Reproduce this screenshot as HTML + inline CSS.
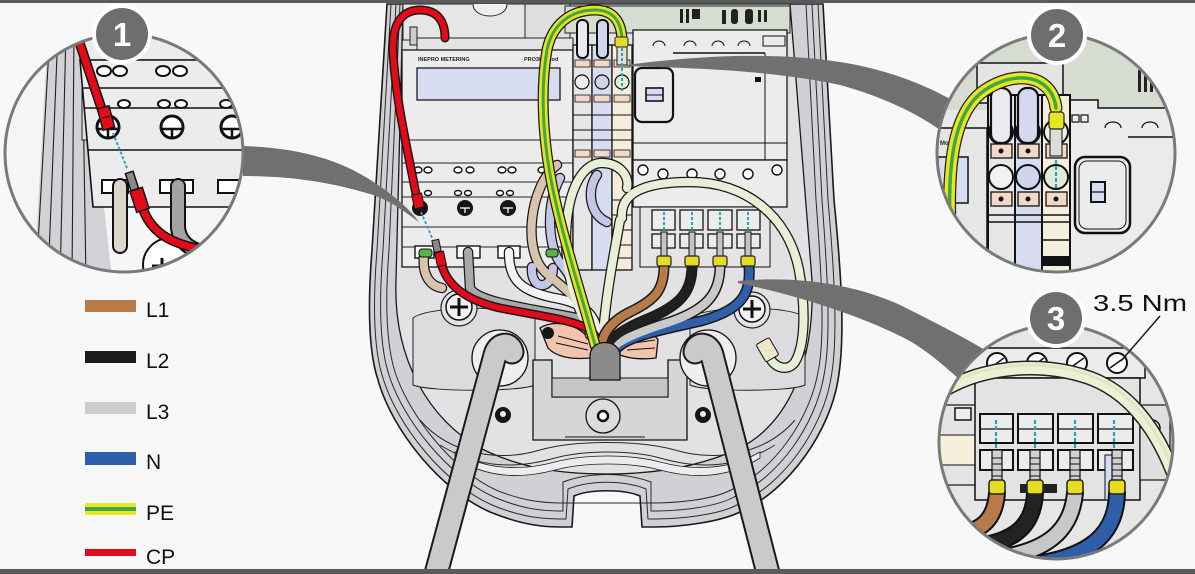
<!DOCTYPE html>
<html><head><meta charset="utf-8">
<style>
html,body{margin:0;padding:0;background:#f8f8f8;overflow:hidden;}
svg{display:block;}
text{font-family:"Liberation Sans",sans-serif;}
</style></head>
<body>
<svg width="1195" height="574" viewBox="0 0 1195 574" xmlns="http://www.w3.org/2000/svg">
<defs>
<clipPath id="c1"><circle cx="124" cy="153" r="119"/></clipPath>
<clipPath id="c2"><circle cx="1056" cy="153" r="119"/></clipPath>
<clipPath id="c3"><circle cx="1056" cy="442" r="117"/></clipPath>
</defs>
<rect width="1195" height="574" fill="#f8f8f8"/>

<!-- ============ HOUSING ============ -->
<path d="M387,4 L372,250 C368,300 368,350 378,380 C392,430 440,490 490,512 C515,522 535,527 560,527 L572,527 L574,496 C590,489 624,489 640,496 L642,527 L655,527 C680,527 720,522 740,512 C790,490 830,430 838,380 C845,340 842,280 834,200 L823,4 Z" fill="#d1d1d5" stroke="#1a1a1a" stroke-width="1.6"/>
<g fill="none" stroke="#2a2a2a" stroke-width="1">
<path d="M391,4 L377,250 C373,300 373,348 383,378 C397,425 444,484 492,505 C516,515 536,519 560,519 L566,519 L568,489 C590,480 624,480 646,489 L648,519 L655,519 C680,519 718,515 737,505 C785,484 823,427 831,378 C838,340 835,280 828,200 L818,4"/>
<path d="M396,4 L383,250 C379,300 379,345 389,375 C403,420 449,477 494,497 C517,507 537,511 560,511 L563,511 L563,482 C590,472 624,472 651,482 L651,511 L655,511 C680,511 716,507 734,497 C780,477 816,423 824,375 C831,340 828,280 822,200 L812,4"/>
<path d="M400,4 L389,250 C385,300 386,343 395,372 C409,415 452,470 496,490 C520,500 540,503 563,503 L651,503 C676,503 712,500 731,490 C775,470 810,418 818,372 C825,340 822,280 816,200 L806,4"/>
</g>
<!-- inner cavity -->
<path d="M403,4 L396,280 C393,360 430,420 480,448 C520,468 560,474 607,474 C655,474 700,467 740,448 C790,422 815,360 812,280 L790,4 Z" fill="#e2e2e4" stroke="#1a1a1a" stroke-width="1.3"/>
<!-- bottom rim bands -->
<g fill="none" stroke="#2a2a2a" stroke-width="1">
<path d="M420,420 C450,455 500,462 540,450 C575,440 640,440 675,450 C715,462 765,455 795,420"/>
<path d="M440,445 C480,470 520,468 555,458 C585,450 630,450 660,458 C695,468 735,470 775,445"/>
</g>
<path d="M455,452 C490,472 525,470 555,462 C585,454 630,454 660,462 C690,470 725,472 760,452 L760,458 C725,480 690,478 660,470 C630,462 585,462 555,470 C525,478 490,480 455,458 Z" fill="#ececee" stroke="#222" stroke-width="0.8"/>

<!-- top areas -->
<rect x="403" y="4" width="122" height="36" fill="#e6e6e6" stroke="#222" stroke-width="1"/>
<path d="M473,4 C473,20 507,20 507,4" fill="#eee" stroke="#222" stroke-width="1"/>
<rect x="525" y="4" width="45" height="40" fill="#dedede" stroke="#222" stroke-width="1"/>
<rect x="565" y="6" width="225" height="27" fill="#d5dcd0" stroke="#222" stroke-width="1"/>
<g fill="#222">
<rect x="680" y="9" width="3" height="14"/><rect x="686" y="9" width="3" height="14"/><rect x="692" y="9" width="8" height="10"/>
<rect x="722" y="10" width="4" height="14"/><rect x="731" y="9" width="7" height="15" rx="3"/><rect x="745" y="9" width="8" height="15" rx="3"/><rect x="758" y="10" width="3" height="12"/><rect x="764" y="10" width="3" height="12"/>
</g>
<!-- left wall bracket -->
<rect x="410" y="27" width="7" height="18" fill="#ccc" stroke="#222" stroke-width="1"/>

<!-- meter -->
<rect x="417" y="38" width="156" height="12" fill="#e4e4e4" stroke="#222" stroke-width="1"/>
<rect x="402" y="50" width="171" height="217" fill="#ececec" stroke="#1a1a1a" stroke-width="1.3"/>
<text x="418" y="61" font-size="5.5" font-weight="bold" fill="#222">INEPRO METERING</text>
<text x="524" y="61" font-size="5.5" font-weight="bold" fill="#222">PRO380-Mod</text>
<rect x="417" y="68" width="143" height="32" fill="#d8dcf0" stroke="#1a1a1a" stroke-width="1.3"/>
<g stroke="#222" stroke-width="1">
<line x1="402" y1="140" x2="573" y2="140"/><line x1="402" y1="163" x2="573" y2="163"/><line x1="402" y1="182" x2="573" y2="182"/><line x1="402" y1="197" x2="573" y2="197"/><line x1="402" y1="227" x2="573" y2="227"/><line x1="402" y1="247" x2="573" y2="247"/>
</g>
<g fill="#fff" stroke="#111" stroke-width="1.4">
<ellipse cx="418" cy="170" rx="4" ry="3"/><ellipse cx="428" cy="170" rx="4" ry="3"/><ellipse cx="458" cy="170" rx="4" ry="3"/><ellipse cx="470" cy="170" rx="4" ry="3"/><ellipse cx="502" cy="170" rx="4" ry="3"/><ellipse cx="512" cy="170" rx="4" ry="3"/><ellipse cx="542" cy="170" rx="4" ry="3"/>
<ellipse cx="428" cy="193" rx="3.5" ry="2.5"/><ellipse cx="458" cy="193" rx="3.5" ry="2.5"/><ellipse cx="468" cy="193" rx="3.5" ry="2.5"/><ellipse cx="500" cy="193" rx="3.5" ry="2.5"/><ellipse cx="510" cy="193" rx="3.5" ry="2.5"/>
</g>
<g fill="#151515">
<circle cx="420" cy="208" r="8"/><circle cx="465" cy="208" r="8"/><circle cx="508" cy="208" r="8"/>
</g>
<g stroke="#fff" stroke-width="1.3"><line x1="460" y1="208" x2="470" y2="208"/><line x1="465" y1="208" x2="465" y2="213"/><line x1="503" y1="208" x2="513" y2="208"/><line x1="508" y1="208" x2="508" y2="213"/></g>
<g fill="#fff" stroke="#111" stroke-width="1.4">
<rect x="415" y="246" width="19" height="12"/><rect x="457" y="246" width="23" height="12"/><rect x="498" y="246" width="22" height="12"/>
</g>

<!-- terminal blocks -->
<rect x="573" y="45" width="19" height="225" fill="#e6e6e6" stroke="#111" stroke-width="1.3"/>
<rect x="592" y="45" width="20" height="225" fill="#d8dcf0" stroke="#111" stroke-width="1.3"/>
<rect x="612" y="45" width="20" height="225" fill="#f4eddb" stroke="#111" stroke-width="1.3"/>
<g fill="#f3d8c8" stroke="#111" stroke-width="0.8">
<rect x="575" y="60" width="15" height="7"/><rect x="594" y="60" width="16" height="7"/><rect x="614" y="60" width="16" height="7"/>
<rect x="575" y="95" width="15" height="7"/><rect x="594" y="95" width="16" height="7"/><rect x="614" y="95" width="16" height="7"/>
<rect x="575" y="150" width="15" height="7"/><rect x="594" y="150" width="16" height="7"/><rect x="614" y="150" width="16" height="7"/>
</g>
<g fill="#eee" stroke="#111" stroke-width="1.2">
<circle cx="582" cy="82" r="7"/><circle cx="602" cy="82" r="7" fill="#cfd3ea"/><circle cx="622" cy="82" r="7" fill="#e4ecdc"/>
</g>
<g stroke="#111" stroke-width="1"><line x1="573" y1="115" x2="632" y2="115"/><line x1="573" y1="130" x2="632" y2="130"/><line x1="573" y1="140" x2="632" y2="140"/><line x1="612" y1="200" x2="632" y2="200"/><line x1="612" y1="215" x2="632" y2="215"/><line x1="612" y1="230" x2="632" y2="230"/><line x1="612" y1="245" x2="632" y2="245"/><line x1="612" y1="258" x2="632" y2="258"/></g>
<rect x="577" y="20" width="11" height="38" rx="5" fill="#e9e9ef" stroke="#111" stroke-width="2"/>
<rect x="597" y="20" width="11" height="38" rx="5" fill="#d3d7ee" stroke="#111" stroke-width="2"/>
<rect x="617" y="45" width="10" height="20" fill="#e0e0e0" stroke="#111" stroke-width="1"/>
<line x1="622" y1="48" x2="622" y2="92" stroke="#2aa4b4" stroke-width="2" stroke-dasharray="3,2"/>

<!-- right box -->
<rect x="633" y="30" width="154" height="130" fill="#ececec" stroke="#1a1a1a" stroke-width="1.3"/>
<g fill="#ececec" stroke="#111" stroke-width="1"><path d="M653,46 a6,5 0 0 1 12,0"/><path d="M684,46 a6,5 0 0 1 12,0"/><path d="M712,46 a6,5 0 0 1 12,0"/><path d="M738,46 a6,5 0 0 1 12,0"/></g>
<rect x="763" y="36" width="22" height="10" fill="#ececec" stroke="#111"/>
<line x1="673" y1="53" x2="765" y2="53" stroke="#111" stroke-width="1.5"/>
<rect x="635" y="68" width="38" height="54" rx="7" fill="#ececec" stroke="#111" stroke-width="2.2"/>
<rect x="646" y="88" width="17" height="13" fill="#d8dcf0" stroke="#111" stroke-width="1.6"/>
<line x1="646" y1="95" x2="663" y2="95" stroke="#111"/>
<rect x="755" y="77" width="6" height="5" fill="#111"/>
<line x1="633" y1="143" x2="787" y2="143" stroke="#111"/>
<line x1="765" y1="53" x2="765" y2="207" stroke="#111"/>
<rect x="633" y="160" width="154" height="47" fill="#ececec" stroke="#1a1a1a" stroke-width="1.3"/>
<g fill="#fff" stroke="#111" stroke-width="1.4">
<circle cx="643" cy="170" r="5"/><circle cx="663" cy="174" r="5"/><circle cx="692" cy="174" r="5"/><circle cx="720" cy="174" r="5"/><circle cx="748" cy="174" r="5"/><circle cx="777" cy="170" r="5"/>
</g>
<!-- terminal row -->
<rect x="640" y="207" width="130" height="60" fill="#e5e5e5" stroke="#111"/>
<g fill="#ececec" stroke="#111" stroke-width="1.3">
<rect x="652" y="210" width="23" height="20"/><rect x="680" y="210" width="23" height="20"/><rect x="708" y="210" width="24" height="20"/><rect x="737" y="210" width="23" height="20"/>
<rect x="652" y="234" width="23" height="14"/><rect x="680" y="234" width="23" height="14"/><rect x="708" y="234" width="24" height="14"/><rect x="737" y="234" width="23" height="14"/>
</g>
<g fill="#c4c4c4" stroke="#111" stroke-width="1">
<rect x="661" y="232" width="6" height="26"/><rect x="689" y="232" width="6" height="26"/><rect x="717" y="232" width="6" height="26"/><rect x="745" y="232" width="6" height="26"/>
</g>
<g stroke="#2aa4b4" stroke-width="2" stroke-dasharray="3,2">
<line x1="664" y1="212" x2="664" y2="230"/><line x1="692" y1="212" x2="692" y2="230"/><line x1="720" y1="212" x2="720" y2="230"/><line x1="748" y1="212" x2="748" y2="230"/>
</g>

<!-- base details -->
<path d="M413,318 C430,305 520,305 535,318 L535,385 C520,392 430,392 413,385 Z" fill="#dcdcde" stroke="#222" stroke-width="1"/>
<path d="M690,318 C705,305 795,305 805,318 L805,385 C790,392 705,392 690,385 Z" fill="#dcdcde" stroke="#222" stroke-width="1"/>
<circle cx="459" cy="308" r="18" fill="#e4e4e6" stroke="#222" stroke-width="1.2"/>
<circle cx="459" cy="307" r="13" fill="#f2f2f4" stroke="#111" stroke-width="1.5"/>
<path d="M459,298 L459,316 M450,307 L468,307" stroke="#111" stroke-width="3"/>
<circle cx="752" cy="310" r="18" fill="#e4e4e6" stroke="#222" stroke-width="1.2"/>
<circle cx="752" cy="309" r="13" fill="#f2f2f4" stroke="#111" stroke-width="1.5"/>
<path d="M752,300 L752,318 M743,309 L761,309" stroke="#111" stroke-width="3"/>
<!-- bracket -->
<path d="M533,360 L552,360 L552,397 L668,397 L668,360 L687,360 L687,440 L533,440 Z" fill="#d6d6d8" stroke="#111" stroke-width="1.3"/>
<rect x="552" y="378" width="116" height="19" fill="#c6c6c8" stroke="#111" stroke-width="1"/>
<circle cx="603" cy="416" r="17" fill="#dcdcde" stroke="#111" stroke-width="1.3"/>
<circle cx="603" cy="416" r="5" fill="#fff" stroke="#111" stroke-width="2.5"/>
<line x1="565" y1="437" x2="645" y2="437" stroke="#111"/>
<circle cx="503" cy="415" r="8" fill="#151515"/><circle cx="503" cy="414" r="3" fill="#eee"/>
<circle cx="703" cy="415" r="8" fill="#151515"/><circle cx="703" cy="414" r="3" fill="#eee"/>
<!-- bosses -->
<circle cx="500" cy="358" r="28" fill="#efeff1" stroke="#111" stroke-width="1.3"/>
<circle cx="708" cy="358" r="28" fill="#efeff1" stroke="#111" stroke-width="1.3"/>
<!-- pink -->
<path d="M540,328 C555,318 585,325 592,345 L590,358 C570,360 555,356 548,348 Z" fill="#f2c3ad" stroke="#111" stroke-width="1.3"/>
<path d="M620,340 C630,330 655,332 658,340 L656,358 C640,360 628,358 620,355 Z" fill="#f2c3ad" stroke="#111" stroke-width="1.3"/>
<g stroke="#111" stroke-width="1"><line x1="558" y1="336" x2="588" y2="344"/><line x1="556" y1="343" x2="588" y2="350"/><line x1="627" y1="344" x2="655" y2="340"/><line x1="627" y1="350" x2="655" y2="348"/></g>
<circle cx="548" cy="333" r="6" fill="#151515"/>

<!-- ============ WIRES ============ -->
<g fill="none" stroke-linecap="round" stroke-linejoin="round">
<!-- back wires outlines -->
<g stroke="#1a1a1a" stroke-width="10.5">
<path d="M424,256 C422,275 430,286 442,288"/>
<path d="M468,252 L470,288 C478,303 530,308 587,320"/>
<path d="M509,252 C509,280 520,292 560,299 C582,304 594,313 597,330"/>
<path d="M532,267 C530,290 552,292 553,268"/>
<path d="M557,165 C530,185 522,250 545,272 C565,290 585,300 590,330"/>
<path d="M560,178 C545,205 548,250 562,265 C575,282 585,300 590,335"/>
<path d="M597,175 C586,190 590,215 607,222"/>
<path d="M597,345 C583,318 567,292 566,240 C566,195 580,165 600,163 C618,162 630,175 627,188"/>
<path d="M622,218 C620,195 640,182 690,182 C745,182 788,215 799,270 C806,310 805,345 795,362 C788,372 775,368 770,358"/>
<path d="M620,220 C614,255 606,292 602,345"/>
</g>
<path d="M424,256 C422,275 430,286 442,288" stroke="#d8c3ae" stroke-width="8"/>
<path d="M468,252 L470,288 C478,303 530,308 587,320" stroke="#a8a8a9" stroke-width="8"/>
<path d="M509,252 C509,280 520,292 560,299 C582,304 594,313 597,330" stroke="#f3f3f3" stroke-width="8"/>
<path d="M532,267 C530,290 552,292 553,268" stroke="#c3c6e4" stroke-width="8"/>
<path d="M557,165 C530,185 522,250 545,272 C565,290 585,300 590,330" stroke="#d8c3ae" stroke-width="8"/>
<path d="M560,178 C545,205 548,250 562,265 C575,282 585,300 590,335" stroke="#c3c6e4" stroke-width="8"/>
<path d="M597,175 C586,190 590,215 607,222" stroke="#c3c6e4" stroke-width="8"/>
<path d="M597,345 C583,318 567,292 566,240 C566,195 580,165 600,163 C618,162 630,175 627,188" stroke="#e9eed6" stroke-width="8"/>
<path d="M622,218 C620,195 640,182 690,182 C745,182 788,215 799,270 C806,310 805,345 795,362 C788,372 775,368 770,358" stroke="#e9eed6" stroke-width="8"/>
<path d="M620,220 C614,255 606,292 602,345" stroke="#e9eed6" stroke-width="8"/>
<!-- red CP -->
<path d="M418,205 C410,160 395,100 393,50 C392,20 405,10 420,10 C438,10 445,22 445,38" stroke="#1a1a1a" stroke-width="9"/>
<path d="M418,205 C410,160 395,100 393,50 C392,20 405,10 420,10 C438,10 445,22 445,38" stroke="#e30a19" stroke-width="6"/>
<path d="M441,262 C446,285 465,300 500,308 C540,316 575,320 590,330 C596,335 598,342 598,347" stroke="#1a1a1a" stroke-width="9"/>
<path d="M441,262 C446,285 465,300 500,308 C540,316 575,320 590,330 C596,335 598,342 598,347" stroke="#e30a19" stroke-width="6"/>
<!-- N, L3, L2, L1 -->
<g stroke="#1a1a1a" stroke-width="11">
<path d="M749,266 C751,295 741,310 701,321 C661,330 629,336 617,348"/>
<path d="M720,266 C720,295 705,310 670,322 C635,333 617,342 613,348"/>
<path d="M692,266 C692,292 680,305 650,318 C620,330 609,340 607,348"/>
<path d="M664,266 C664,290 655,300 630,312 C610,322 602,335 601,348"/>
</g>
<path d="M749,266 C751,295 741,310 701,321 C661,330 629,336 617,348" stroke="#2f5fa8" stroke-width="8"/>
<path d="M720,266 C720,295 705,310 670,322 C635,333 617,342 613,348" stroke="#c9c9c9" stroke-width="8"/>
<path d="M692,266 C692,292 680,305 650,318 C620,330 609,340 607,348" stroke="#202020" stroke-width="8"/>
<path d="M664,266 C664,290 655,300 630,312 C610,322 602,335 601,348" stroke="#b87a48" stroke-width="8"/>
<!-- PE -->
<path d="M622,42 C622,20 612,10 595,10 C570,10 552,25 547,50 C540,90 543,140 552,185 C562,235 580,290 595,345" stroke="#1a1a1a" stroke-width="11"/>
<path d="M622,42 C622,20 612,10 595,10 C570,10 552,25 547,50 C540,90 543,140 552,185 C562,235 580,290 595,345" stroke="#e7e221" stroke-width="8.5"/>
<path d="M622,42 C622,20 612,10 595,10 C570,10 552,25 547,50 C540,90 543,140 552,185 C562,235 580,290 595,345" stroke="#3ea845" stroke-width="3"/>
</g>
<!-- ferrules -->
<rect x="615" y="37" width="13" height="10" rx="2" fill="#e5dc2a" stroke="#222"/>
<g fill="#e5dc2a" stroke="#222" stroke-width="1.2">
<rect x="657" y="256" width="14" height="10" rx="2"/><rect x="685" y="256" width="14" height="10" rx="2"/><rect x="713" y="256" width="14" height="10" rx="2"/><rect x="741" y="256" width="14" height="10" rx="2"/>
</g>
<rect x="413" y="194" width="10" height="14" fill="#e30a19" stroke="#111" transform="rotate(-12 418 201)"/>
<rect x="433" y="240" width="7" height="12" fill="#888" stroke="#111" transform="rotate(-12 436 246)"/>
<rect x="436" y="252" width="9" height="14" fill="#e30a19" stroke="#111" transform="rotate(-12 440 259)"/>
<line x1="421" y1="212" x2="433" y2="240" stroke="#2aa4b4" stroke-width="1.8" stroke-dasharray="3,2"/>
<rect x="419" y="249" width="13" height="8" rx="3" fill="#5db04a" stroke="#111"/>
<rect x="546" y="249" width="12" height="8" rx="3" fill="#5db04a" stroke="#111"/>
<rect x="760" y="340" width="15" height="20" rx="2" fill="#eee8c8" stroke="#111" transform="rotate(-30 767 350)"/>
<!-- gland -->
<path d="M590,380 L590,356 C590,338 620,338 620,356 L620,380 Z" fill="#8b8b8b" stroke="#111" stroke-width="1.3"/>

<!-- big cables -->
<g fill="none" stroke-linecap="round">
<path d="M433,585 L495,355 C498,343 510,342 512,352" stroke="#1a1a1a" stroke-width="25"/>
<path d="M433,585 L495,355 C498,343 510,342 512,352" stroke="#c9caca" stroke-width="21"/>
<path d="M771,585 L712,355 C709,343 697,342 695,352" stroke="#1a1a1a" stroke-width="25"/>
<path d="M771,585 L712,355 C709,343 697,342 695,352" stroke="#c9caca" stroke-width="21"/>
</g>

<!-- ============ WEDGES ============ -->
<path d="M243,146 C300,148 340,160 372,181 C392,194 408,207 419,222 C405,212 390,200 370,194 C330,182 290,176 243,176 Z" fill="#707070"/>
<path d="M626,65 C680,58 760,50 840,62 C890,70 925,85 952,100 L940,130 C915,112 880,96 840,85 C770,70 690,68 626,66 Z" fill="#707070"/>
<path d="M738,281 C790,276 850,282 900,305 C930,320 960,335 985,350 L960,380 C940,362 920,345 900,336 C860,316 800,296 738,283 Z" fill="#707070"/>

<!-- ============ CIRCLE 1 ============ -->
<g clip-path="url(#c1)">
<rect x="0" y="30" width="250" height="250" fill="#f5f5f5"/>
<polygon points="48,30 85,30 112,280 34,280" fill="#d2d2d6"/>
<g stroke="#222" stroke-width="1.1"><line x1="50" y1="30" x2="36" y2="280"/><line x1="58" y1="30" x2="48" y2="280"/><line x1="66" y1="30" x2="60" y2="280"/><line x1="74" y1="30" x2="72" y2="280"/><line x1="82" y1="30" x2="86" y2="280"/></g>
<rect x="80" y="32" width="170" height="28" fill="#ebebeb" stroke="#222" stroke-width="1.2"/>
<rect x="82" y="88" width="10" height="52" fill="#dedede" stroke="#222"/>
<polygon points="80,60 250,60 250,207 93,207" fill="#ececec" stroke="#111" stroke-width="1.6"/>
<g stroke="#111" stroke-width="1.4"><line x1="82" y1="88" x2="250" y2="88"/><line x1="84" y1="108" x2="250" y2="108"/><line x1="88" y1="150" x2="250" y2="150"/></g>
<g fill="#fff" stroke="#111" stroke-width="2">
<ellipse cx="104" cy="71" rx="7" ry="5"/><ellipse cx="120" cy="71" rx="7" ry="5"/><ellipse cx="163" cy="71" rx="7" ry="5"/><ellipse cx="180" cy="71" rx="7" ry="5"/>
<ellipse cx="124" cy="104" rx="6" ry="4"/><ellipse cx="164" cy="104" rx="6" ry="4"/><ellipse cx="181" cy="104" rx="6" ry="4"/><ellipse cx="226" cy="104" rx="6" ry="4"/>
<circle cx="108" cy="127" r="11" stroke-width="3"/><circle cx="172" cy="127" r="11" stroke-width="3"/><circle cx="232" cy="127" r="11" stroke-width="3"/>
</g>
<g stroke="#111" stroke-width="2.5"><path d="M97,129 L119,129 M108,129 L108,138"/><path d="M161,129 L183,129 M172,129 L172,138"/><path d="M221,129 L243,129 M232,129 L232,138"/></g>
<g fill="#fff" stroke="#111" stroke-width="2"><rect x="102" y="180" width="26" height="13"/><rect x="160" y="180" width="33" height="13"/><rect x="218" y="180" width="25" height="13"/></g>
<circle cx="170" cy="265" r="27" fill="#fff" stroke="#111" stroke-width="2"/>
<path d="M162,258 L162,278 M152,266 L180,266" stroke="#111" stroke-width="3"/>
<g fill="none" stroke-linecap="round">
<path d="M120,186 L120,246" stroke="#111" stroke-width="16"/><path d="M120,186 L120,246" stroke="#ddd5c8" stroke-width="12"/>
<path d="M178,186 L178,228 Q180,244 196,250" stroke="#111" stroke-width="16"/><path d="M178,186 L178,228 Q180,244 196,250" stroke="#a3a3a3" stroke-width="12"/>
<path d="M78,38 L106,122" stroke="#111" stroke-width="10"/><path d="M78,38 L106,122" stroke="#e30a19" stroke-width="7"/>
<path d="M142,206 C150,232 170,244 205,250 L265,262" stroke="#111" stroke-width="10"/><path d="M142,206 C150,232 170,244 205,250 L265,262" stroke="#e30a19" stroke-width="7"/>
</g>
<rect x="100" y="107" width="12" height="22" fill="#e30a19" stroke="#111" stroke-width="1.5" transform="rotate(-15 106 118)"/>
<line x1="102" y1="118" x2="110" y2="116" stroke="#111"/>
<line x1="113" y1="133" x2="127" y2="168" stroke="#2aa4b4" stroke-width="2" stroke-dasharray="3,2"/>
<rect x="128" y="172" width="8" height="18" fill="#8a8a8a" stroke="#111" stroke-width="1.5" transform="rotate(-18 132 181)"/>
<rect x="133" y="189" width="13" height="22" fill="#e30a19" stroke="#111" stroke-width="1.5" transform="rotate(-18 139 200)"/>
</g>
<circle cx="124" cy="153" r="119" fill="none" stroke="#7a7a7a" stroke-width="3"/>

<!-- ============ CIRCLE 2 ============ -->
<g clip-path="url(#c2)">
<rect x="930" y="30" width="255" height="255" fill="#e8e8e8"/>
<rect x="930" y="30" width="255" height="80" fill="#d6ddd0"/>
<rect x="977" y="63" width="86" height="40" fill="#e4e4e4" stroke="#111" stroke-width="1.5"/>
<g fill="#222"><rect x="1138" y="70" width="3" height="22"/><rect x="1144" y="70" width="3" height="22"/><rect x="1150" y="72" width="3" height="20"/><rect x="1156" y="74" width="3" height="18"/></g>
<path d="M1070,100 L1098,100 L1098,108 L1185,108 L1185,290 L1070,290 Z" fill="#ebebeb" stroke="#111" stroke-width="1.5"/>
<g fill="#ebebeb" stroke="#111" stroke-width="1.2"><rect x="1072" y="115" width="7" height="7"/><rect x="1081" y="115" width="7" height="7"/><path d="M1105,128 a8,6 0 0 1 16,0"/><path d="M1142,128 a8,6 0 0 1 16,0"/></g>
<line x1="1128" y1="137" x2="1180" y2="137" stroke="#111" stroke-width="1.5"/>
<rect x="1075" y="157" width="55" height="76" rx="10" fill="#ececec" stroke="#111" stroke-width="2.5"/>
<rect x="1079" y="161" width="47" height="68" rx="8" fill="none" stroke="#111" stroke-width="1"/>
<rect x="1091" y="182" width="14" height="20" fill="#d8dcf0" stroke="#111" stroke-width="2"/>
<line x1="1091" y1="192" x2="1105" y2="192" stroke="#111" stroke-width="1.2"/>
<rect x="930" y="128" width="57" height="160" fill="#e6e6e6" stroke="#111" stroke-width="1.5"/>
<rect x="938" y="157" width="30" height="46" fill="#d8dcf0" stroke="#111" stroke-width="1.5"/>
<text x="940" y="145" font-size="6" font-weight="bold" fill="#222">Mod</text>
<rect x="988" y="95" width="27" height="195" fill="#e6e6e6" stroke="#111" stroke-width="2"/>
<rect x="1015" y="95" width="27" height="195" fill="#d8dcf0" stroke="#111" stroke-width="2"/>
<rect x="1042" y="95" width="28" height="195" fill="#f4efdc" stroke="#111" stroke-width="2"/>
<g stroke="#111" stroke-width="1.5"><line x1="988" y1="215" x2="1070" y2="215"/><line x1="988" y1="222" x2="1070" y2="222"/><line x1="1042" y1="240" x2="1070" y2="240"/></g>
<rect x="1043" y="256" width="27" height="10" fill="#111"/>
<g stroke="#111" stroke-width="2">
<circle cx="1001" cy="132" r="12" fill="#f2f2f2"/><circle cx="1028" cy="132" r="12" fill="#e0e3f2"/><circle cx="1056" cy="132" r="12" fill="#f0f0ea"/>
<circle cx="1001" cy="177" r="12" fill="#f2f2f2"/><circle cx="1028" cy="177" r="12" fill="#d0d4ec"/><circle cx="1056" cy="177" r="12" fill="#e2ecda"/>
</g>
<g fill="#f3d8c8" stroke="#111" stroke-width="1.3">
<rect x="991" y="144" width="21" height="14"/><rect x="1018" y="144" width="21" height="14"/><rect x="1046" y="144" width="21" height="14"/>
<rect x="991" y="192" width="21" height="14"/><rect x="1018" y="192" width="21" height="14"/><rect x="1046" y="192" width="21" height="14"/>
</g>
<g fill="#111"><circle cx="1001" cy="151" r="2.5"/><circle cx="1028" cy="151" r="2.5"/><circle cx="1056" cy="151" r="2.5"/><circle cx="1001" cy="199" r="2.5"/><circle cx="1028" cy="199" r="2.5"/><circle cx="1056" cy="199" r="2.5"/></g>
<rect x="991" y="88" width="20" height="55" rx="9" fill="#ececf0" stroke="#111" stroke-width="2.2"/>
<rect x="1018" y="88" width="20" height="55" rx="9" fill="#d5d9ef" stroke="#111" stroke-width="2.2"/>
<rect x="1050" y="128" width="12" height="28" fill="#dcdcdc" stroke="#111" stroke-width="1"/>
<line x1="1056" y1="160" x2="1056" y2="190" stroke="#2aa4b4" stroke-width="2.2" stroke-dasharray="4,2"/>
<g fill="none" stroke-linecap="round">
<path d="M952,260 C945,170 952,112 985,90 C1015,70 1052,74 1056,108" stroke="#222" stroke-width="13"/>
<path d="M952,260 C945,170 952,112 985,90 C1015,70 1052,74 1056,108" stroke="#e9e424" stroke-width="10.5"/>
<path d="M952,260 C945,170 952,112 985,90 C1015,70 1052,74 1056,108" stroke="#3fa844" stroke-width="3.5"/>
</g>
<rect x="1049" y="112" width="15" height="17" rx="3" fill="#e9e424" stroke="#222" stroke-width="1.2"/>
</g>
<circle cx="1056" cy="153" r="119" fill="none" stroke="#7a7a7a" stroke-width="3"/>

<!-- ============ CIRCLE 3 ============ -->
<g clip-path="url(#c3)">
<rect x="930" y="320" width="255" height="245" fill="#e6e6e6"/>
<rect x="960" y="348" width="185" height="30" fill="#ececec" stroke="#111" stroke-width="1.5"/>
<g fill="#fff" stroke="#111" stroke-width="2">
<circle cx="997" cy="363" r="10"/><circle cx="1037" cy="363" r="10"/><circle cx="1077" cy="363" r="10"/><circle cx="1117" cy="363" r="10"/>
</g>
<g stroke="#111" stroke-width="1.5"><line x1="990" y1="368" x2="1004" y2="358"/><line x1="1030" y1="368" x2="1044" y2="358"/><line x1="1070" y1="368" x2="1084" y2="358"/><line x1="1110" y1="368" x2="1124" y2="358"/></g>
<rect x="936" y="405" width="44" height="80" fill="#e4e4e4" stroke="#111" stroke-width="1.2"/>
<rect x="955" y="408" width="16" height="12" fill="#ececec" stroke="#111" stroke-width="1.5"/>
<rect x="936" y="435" width="42" height="30" fill="#f5efdc" stroke="#111" stroke-width="1"/>
<rect x="975" y="378" width="165" height="122" fill="#e3e3e3" stroke="#111" stroke-width="1.5"/>
<g fill="#ececec" stroke="#111" stroke-width="2">
<rect x="980" y="414" width="33" height="29"/><rect x="1018" y="414" width="35" height="29"/><rect x="1058" y="414" width="35" height="29"/><rect x="1098" y="414" width="35" height="29"/>
<rect x="980" y="450" width="33" height="20"/><rect x="1018" y="450" width="35" height="20"/><rect x="1058" y="450" width="35" height="20"/><rect x="1098" y="450" width="35" height="20"/>
</g>
<g stroke="#111" stroke-width="1.2"><line x1="980" y1="429" x2="1013" y2="429"/><line x1="1018" y1="429" x2="1053" y2="429"/><line x1="1058" y1="429" x2="1093" y2="429"/><line x1="1098" y1="429" x2="1133" y2="429"/></g>
<g stroke="#2aa4b4" stroke-width="2.2" stroke-dasharray="4,2">
<line x1="996" y1="420" x2="996" y2="448"/><line x1="1035" y1="420" x2="1035" y2="448"/><line x1="1075" y1="420" x2="1075" y2="448"/><line x1="1114" y1="420" x2="1114" y2="448"/>
</g>
<rect x="1140" y="405" width="30" height="75" fill="#e0e0e0" stroke="#111" stroke-width="1.2"/>
<circle cx="1152" cy="428" r="8" fill="#ececec" stroke="#111" stroke-width="1.5"/>
<rect x="1105" y="455" width="10" height="45" fill="#d8dcf0" stroke="#111"/>
<g fill="#cfcfcf" stroke="#111" stroke-width="1.2">
<rect x="992" y="450" width="10" height="34"/><rect x="1030" y="450" width="10" height="34"/><rect x="1070" y="450" width="10" height="34"/><rect x="1112" y="450" width="10" height="34"/>
</g>
<g stroke="#111" stroke-width="1"><path d="M992,458 h10 M992,464 h10 M992,470 h10 M992,476 h10 M1030,458 h10 M1030,464 h10 M1030,470 h10 M1030,476 h10 M1070,458 h10 M1070,464 h10 M1070,470 h10 M1070,476 h10 M1112,458 h10 M1112,464 h10 M1112,470 h10 M1112,476 h10"/></g>
<rect x="1020" y="484" width="37" height="9" fill="#222"/>
<g fill="none" stroke-linecap="round">
<path d="M1117,493 C1116,540 1082,562 1010,567" stroke="#111" stroke-width="18"/>
<path d="M1117,493 C1116,540 1082,562 1010,567" stroke="#2f5fa8" stroke-width="14"/>
<path d="M1075,493 C1071,535 1042,555 980,560" stroke="#111" stroke-width="18"/>
<path d="M1075,493 C1071,535 1042,555 980,560" stroke="#c8c8c8" stroke-width="14"/>
<path d="M1035,493 C1033,530 1010,545 960,548" stroke="#111" stroke-width="18"/>
<path d="M1035,493 C1033,530 1010,545 960,548" stroke="#232323" stroke-width="14"/>
<path d="M997,493 C995,520 982,532 950,536" stroke="#111" stroke-width="18"/>
<path d="M997,493 C995,520 982,532 950,536" stroke="#b87a48" stroke-width="14"/>
<path d="M932,398 C975,366 1040,360 1090,378 C1130,393 1160,430 1180,492" stroke="#222" stroke-width="15"/>
<path d="M932,398 C975,366 1040,360 1090,378 C1130,393 1160,430 1180,492" stroke="#eef0d6" stroke-width="12"/>
<path d="M932,395 C975,363 1040,357 1090,375 C1130,390 1160,427 1180,489" stroke="#dfe6c6" stroke-width="3"/>
</g>
<g fill="#e6dd22" stroke="#222" stroke-width="1.5">
<rect x="989" y="480" width="16" height="14" rx="3"/><rect x="1027" y="480" width="16" height="14" rx="3"/><rect x="1067" y="480" width="16" height="14" rx="3"/><rect x="1109" y="480" width="16" height="14" rx="3"/>
</g>
</g>
<circle cx="1056" cy="442" r="117" fill="none" stroke="#7a7a7a" stroke-width="3"/>

<!-- badges -->
<circle cx="122" cy="34" r="30" fill="#ffffff"/>
<circle cx="122" cy="34" r="26" fill="#6e6e6e"/>
<text x="122" y="46" font-size="33" font-weight="bold" fill="#fff" text-anchor="middle">1</text>
<circle cx="1057" cy="35" r="30" fill="#ffffff"/>
<circle cx="1057" cy="35" r="26" fill="#6e6e6e"/>
<text x="1057" y="47" font-size="33" font-weight="bold" fill="#fff" text-anchor="middle">2</text>
<circle cx="1056" cy="318" r="30" fill="#ffffff"/>
<circle cx="1056" cy="318" r="26" fill="#6e6e6e"/>
<text x="1056" y="330" font-size="33" font-weight="bold" fill="#fff" text-anchor="middle">3</text>

<!-- torque label -->
<text x="1093" y="311" font-size="23" fill="#111" textLength="94" lengthAdjust="spacingAndGlyphs">3.5 Nm</text>
<line x1="1160" y1="316" x2="1121" y2="361" stroke="#1a1a1a" stroke-width="1.5"/>

<!-- legend -->
<rect x="85" y="300" width="51" height="12" fill="#b87a48"/>
<text x="146" y="317" font-size="21" fill="#111">L1</text>
<rect x="85" y="351" width="51" height="12" fill="#1c1c1c"/>
<text x="146" y="368" font-size="21" fill="#111">L2</text>
<rect x="85" y="402" width="51" height="12" fill="#cbcccb"/>
<text x="146" y="419" font-size="21" fill="#111">L3</text>
<rect x="85" y="452" width="51" height="13" fill="#2f5fa8"/>
<text x="146" y="469" font-size="21" fill="#111">N</text>
<rect x="85" y="503" width="51" height="12" fill="#ede622"/>
<rect x="85" y="507" width="51" height="4" fill="#3aa648"/>
<text x="146" y="520" font-size="21" fill="#111">PE</text>
<rect x="85" y="549" width="51" height="7" fill="#e30a19"/>
<text x="146" y="564" font-size="21" fill="#111">CP</text>

<!-- frame lines -->
<rect x="0" y="0" width="1195" height="3" fill="#5a5a5a"/>
<rect x="0" y="569" width="1195" height="5" fill="#5a5a5a"/>
</svg>
</body></html>
